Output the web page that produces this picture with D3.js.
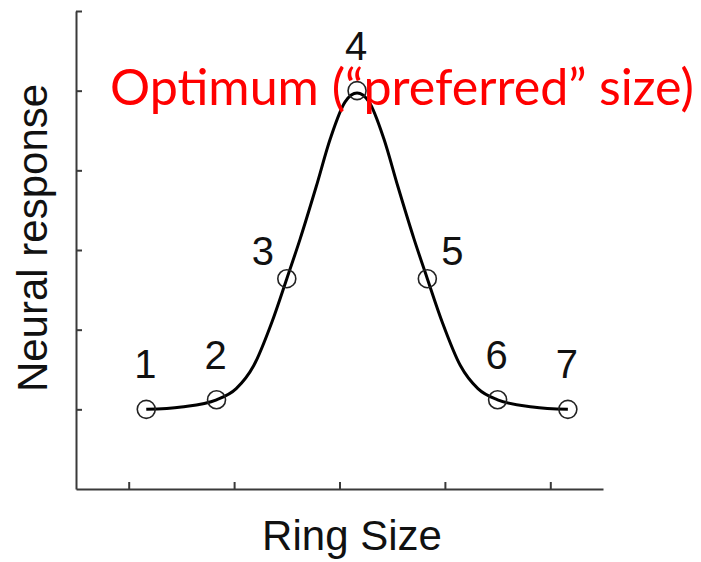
<!DOCTYPE html>
<html>
<head>
<meta charset="utf-8">
<script src="https://cdn.jsdelivr.net/npm/d3@7"></script>
<style>
  html, body { margin: 0; padding: 0; background: #fff; }
  svg { display: block; }
</style>
</head>
<body>
<svg id="chart" width="701" height="562"></svg>
<script>
// Ring sizes tested and the response recorded at each
const ringSize = [1, 2, 3, 4, 5, 6, 7];
const response = [1.0, 1.12, 2.64, 5.0, 2.64, 1.12, 1.0];
const pointLabels = ["1", "2", "3", "4", "5", "6", "7"];

// Tuning curve traced through the measurements
const curveX = [1.0, 1.5, 2.0, 2.28, 2.53, 2.79, 3.0, 3.19, 3.42, 3.62, 3.83, 4.0,
                4.17, 4.38, 4.58, 4.81, 5.0, 5.21, 5.47, 5.72, 6.0, 6.5, 7.0];
const curveY = [1.0, 1.03, 1.12, 1.26, 1.55, 2.10, 2.64, 3.14, 3.80, 4.40, 4.86, 4.97,
                4.86, 4.40, 3.80, 3.14, 2.64, 2.10, 1.55, 1.26, 1.12, 1.03, 1.0];

// Axis ticks (unlabelled)
const xTicks = [0.75, 2.25, 3.75, 5.25, 6.75];
const yTicks = [1, 2, 3, 4, 5, 6];

const xTitle = "Ring Size";
const yTitle = "Neural response";
const note = "Optimum (\u201Cpreferred\u201D size)";

const svg = d3.select("#chart");
const plot = { left: 76, right: 603, top: 11, bottom: 489 };

const x = d3.scaleLinear().domain([0, 7.5]).range([plot.left, plot.right]);
const y = d3.scaleLinear().domain([0, 6]).range([plot.bottom, plot.top]);

const axisColor = "#3a3a3a";

// Axes with inward ticks
const gx = svg.append("g")
  .attr("transform", `translate(0,${plot.bottom})`)
  .call(d3.axisBottom(x).tickValues(xTicks).tickSize(-7).tickSizeOuter(0).tickFormat(""));
const gy = svg.append("g")
  .attr("transform", `translate(${plot.left},0)`)
  .call(d3.axisLeft(y).tickValues(yTicks).tickSize(-6).tickSizeOuter(0).tickFormat(""));
[gx, gy].forEach(g => {
  g.select(".domain").attr("stroke", axisColor).attr("stroke-width", 2);
  g.selectAll(".tick line").attr("stroke", axisColor).attr("stroke-width", 2);
});

// Smooth tuning curve
const line = d3.line()
  .x((d, i) => x(curveX[i]))
  .y((d, i) => y(curveY[i]))
  .curve(d3.curveMonotoneX);
svg.append("path")
  .datum(curveX)
  .attr("d", line)
  .attr("fill", "none")
  .attr("stroke", "#000")
  .attr("stroke-width", 3);

// Open circle markers
svg.append("g").selectAll("circle")
  .data(ringSize)
  .join("circle")
  .attr("cx", d => x(d))
  .attr("cy", (d, i) => y(response[i]))
  .attr("r", 9)
  .attr("fill", "none")
  .attr("stroke", "#222")
  .attr("stroke-width", 1.6);

// Point numbers: above on the flat parts, beside on the steep flanks
svg.append("g").selectAll("text")
  .data(ringSize)
  .join("text")
  .attr("x", (d, i) => x(d) + (i === 2 ? -24 : i === 4 ? 25 : -1))
  .attr("y", (d, i) => y(response[i]) + (i === 2 || i === 4 ? -14 : -31))
  .attr("text-anchor", "middle")
  .attr("font-family", "'Liberation Sans', Arial, sans-serif")
  .attr("font-size", 40)
  .attr("fill", "#111")
  .text((d, i) => pointLabels[i]);

// Axis titles
svg.append("text")
  .attr("x", 352)
  .attr("y", 550)
  .attr("text-anchor", "middle")
  .attr("font-family", "'Liberation Sans', Arial, sans-serif")
  .attr("font-size", 42)
  .attr("fill", "#111")
  .text(xTitle);

svg.append("text")
  .attr("transform", "translate(47,238) rotate(-90)")
  .attr("text-anchor", "middle")
  .attr("font-family", "'Liberation Sans', Arial, sans-serif")
  .attr("font-size", 42)
  .attr("fill", "#111")
  .text(yTitle);

// Red annotation of the peak, sized to span its line
const ann = svg.append("text")
  .attr("x", 110)
  .attr("y", 105)
  .attr("font-family", "Lato, 'Open Sans', sans-serif")
  .attr("font-size", 48)
  .attr("fill", "#ff0000")
  .text(note);
const w = ann.node().getComputedTextLength();
ann.attr("font-size", 48 * 584 / w);
</script>
</body>
</html>
